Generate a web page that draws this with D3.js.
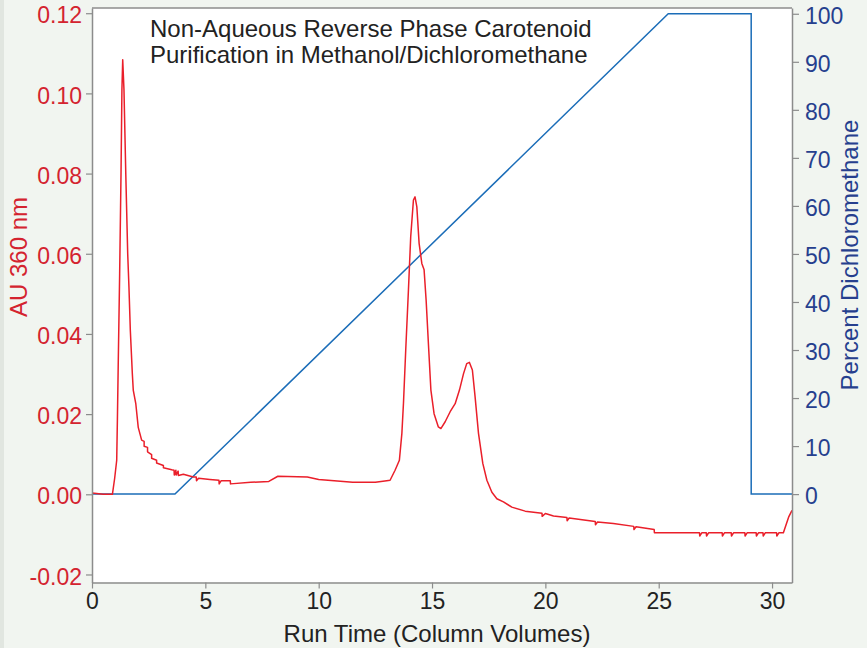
<!DOCTYPE html>
<html>
<head>
<meta charset="utf-8">
<script src="https://cdn.jsdelivr.net/npm/d3@7"></script>
<style>
  body { margin: 0; background: #f1f5f0; }
  svg { display: block; font-family: "Liberation Sans", Arial, sans-serif; }
</style>
</head>
<body>
<div id="chart"></div>
<script>
// --- data ---
const uvTime = [
  0, 0.5, 0.9, 1.0, 1.09, 1.12, 1.16, 1.22, 1.28, 1.32, 1.355, 1.41, 1.49, 1.575,
  1.63, 1.69, 1.78, 1.82, 1.93, 2.04, 2.19, 2.3, 2.3, 2.45, 2.45, 2.63, 2.63,
  2.85, 2.85, 3.15, 3.15, 3.52, 3.62, 3.63, 3.7, 3.71, 3.8, 3.81, 4.03, 4.47,
  4.6, 4.61, 4.7, 5.2, 5.6, 5.61, 5.7, 6.0, 6.1, 6.11, 7.0, 7.8, 8.2, 9.5, 10.0,
  11.5, 12.5, 13.0, 13.15, 13.37, 13.56, 13.67, 13.74, 13.84, 13.96, 14.06,
  14.18, 14.25, 14.33, 14.43, 14.55, 14.65, 14.74, 14.84, 14.95, 15.09, 15.28,
  15.39, 15.58, 15.8, 16.02, 16.21, 16.39, 16.53, 16.65, 16.78, 16.9, 17.05,
  17.24, 17.42, 17.64, 17.86, 18.15, 18.52, 19.11, 19.85, 19.86, 20.0, 20.36,
  20.95, 20.96, 21.05, 21.54, 22.2, 22.21, 22.3, 23.0, 23.9, 23.91, 24.0, 24.8,
  24.81, 25.07, 26.8, 26.81, 26.9, 27.1, 27.11, 27.2, 27.8, 27.81, 27.9, 28.2,
  28.21, 28.3, 28.8, 28.81, 28.9, 29.3, 29.31, 29.4, 29.6, 29.61, 29.7, 30.2,
  30.21, 30.3, 30.5, 30.73, 30.88
];
const uvAbs = [
  0.0003, 0.0, 0.0, 0.004, 0.0085, 0.0185, 0.0335, 0.055, 0.080, 0.101, 0.1084,
  0.101, 0.080, 0.060, 0.0517, 0.041, 0.030, 0.026, 0.0227, 0.0167, 0.0135,
  0.0132, 0.0120, 0.0117, 0.0106, 0.0099, 0.0090, 0.0085, 0.0078, 0.0072,
  0.0066, 0.0061, 0.0060, 0.0048, 0.0060, 0.0048, 0.0058, 0.0047, 0.0050,
  0.0043, 0.0043, 0.0034, 0.0040, 0.0037, 0.0035, 0.0026, 0.0034, 0.0034,
  0.0034, 0.0026, 0.0030, 0.0032, 0.0045, 0.0043, 0.0037, 0.0030, 0.0030,
  0.0034, 0.0035, 0.0060, 0.0085, 0.0152, 0.0227, 0.0360, 0.0510, 0.0643,
  0.0734, 0.0742, 0.0717, 0.0626, 0.0576, 0.0560, 0.0484, 0.0376, 0.0260,
  0.0201, 0.0168, 0.0164, 0.0181, 0.0206, 0.0226, 0.0260, 0.0301, 0.0326,
  0.0329, 0.0310, 0.0243, 0.0152, 0.0077, 0.0035, 0.0005, -0.0011, -0.0019,
  -0.0032, -0.0042, -0.0047, -0.0055, -0.0048, -0.0054, -0.0058, -0.0066,
  -0.0059, -0.0063, -0.0068, -0.0076, -0.0069, -0.0073, -0.0080, -0.0088,
  -0.0081, -0.0088, -0.0096, -0.0096, -0.0096, -0.0104, -0.0096, -0.0096,
  -0.0104, -0.0096, -0.0096, -0.0104, -0.0096, -0.0096, -0.0104, -0.0096,
  -0.0096, -0.0104, -0.0096, -0.0096, -0.0104, -0.0096, -0.0096, -0.0104,
  -0.0096, -0.0096, -0.0104, -0.0096, -0.0096, -0.0057, -0.0040
];
const gradTime = [0, 3.66, 25.42, 29.08, 29.08, 30.88];
const gradPct = [0, 0, 100, 100, 0, 0];

const xTicks = [0, 5, 10, 15, 20, 25, 30];
const auTicks = [-0.02, 0.0, 0.02, 0.04, 0.06, 0.08, 0.1, 0.12];
const pctTicks = [0, 10, 20, 30, 40, 50, 60, 70, 80, 90, 100];
const titleLines = [
  "Non-Aqueous Reverse Phase Carotenoid",
  "Purification in Methanol/Dichloromethane"
];

// --- layout ---
const W = 867, H = 648;
const plot = { left: 92, right: 792, top: 8, bottom: 582.5 };
const red = "#ea1f2a", redText = "#d4232f", blue = "#1b6db8", blueText = "#263f8e";
const axisGray = "#8c8c8c";

const svg = d3.select("#chart").append("svg").attr("width", W).attr("height", H);
svg.append("rect").attr("width", W).attr("height", H).attr("fill", "#f1f5f0");
svg.append("rect").attr("width", 4).attr("height", H).attr("fill", "#e1e6e0");
svg.append("rect")
  .attr("x", plot.left).attr("y", plot.top)
  .attr("width", plot.right - plot.left).attr("height", plot.bottom - plot.top)
  .attr("fill", "#ffffff");

const x = d3.scaleLinear().domain([0, 30.88]).range([plot.left, plot.right]);
const yAU = d3.scaleLinear().domain([-0.022, 0.1213]).range([plot.bottom, plot.top]);
const yPct = d3.scaleLinear().domain([-18.4, 101.2]).range([plot.bottom, plot.top]);

// --- traces ---
const gradLine = d3.line().x((d, i) => x(gradTime[i])).y((d, i) => yPct(gradPct[i]));
svg.append("path")
  .attr("d", gradLine(gradTime))
  .attr("fill", "none").attr("stroke", blue).attr("stroke-width", 1.5);

const uvLine = d3.line().x((d, i) => x(uvTime[i])).y((d, i) => yAU(uvAbs[i]));
svg.append("path")
  .attr("d", uvLine(uvTime))
  .attr("fill", "none").attr("stroke", red).attr("stroke-width", 1.5)
  .attr("stroke-linejoin", "round");

// --- frame ---
svg.append("line")
  .attr("x1", plot.left).attr("x2", plot.right)
  .attr("y1", plot.top).attr("y2", plot.top)
  .attr("stroke", axisGray).attr("stroke-width", 1.5);

function styleAxis(g, color) {
  g.select(".domain").attr("stroke", axisGray).attr("stroke-width", 1.5);
  g.selectAll(".tick line").attr("stroke", axisGray).attr("stroke-width", 1.2);
  g.selectAll(".tick text").attr("fill", color).style("font-size", "23px")
    .style("font-family", "'Liberation Sans', Arial, sans-serif");
}

const xAxis = svg.append("g")
  .attr("transform", `translate(0,${plot.bottom})`)
  .call(d3.axisBottom(x).tickValues(xTicks).tickSize(6).tickSizeOuter(0).tickPadding(4)
    .tickFormat(d3.format("d")));
styleAxis(xAxis, "#222");

const leftAxis = svg.append("g")
  .attr("transform", `translate(${plot.left},0)`)
  .call(d3.axisLeft(yAU).tickValues(auTicks).tickSize(6).tickSizeOuter(0).tickPadding(4)
    .tickFormat((d) => d.toFixed(2)));
styleAxis(leftAxis, redText);
leftAxis.selectAll(".tick text").attr("dy", "0.42em");

const rightAxis = svg.append("g")
  .attr("transform", `translate(${plot.right},0)`)
  .call(d3.axisRight(yPct).tickValues(pctTicks).tickSize(7).tickSizeOuter(0).tickPadding(6)
    .tickFormat(d3.format("d")));
styleAxis(rightAxis, blueText);
rightAxis.selectAll(".tick text").attr("dy", "0.42em");

// --- titles ---
svg.append("text")
  .attr("x", 437).attr("y", 642)
  .attr("text-anchor", "middle")
  .attr("fill", "#222").style("font-size", "24px")
  .text("Run Time (Column Volumes)");

svg.append("text")
  .attr("transform", "translate(27,257) rotate(-90)")
  .attr("text-anchor", "middle")
  .attr("fill", redText).style("font-size", "24px")
  .text("AU 360 nm");

svg.append("text")
  .attr("transform", "translate(858,255) rotate(-90)")
  .attr("text-anchor", "middle")
  .attr("fill", blueText).style("font-size", "24px")
  .text("Percent Dichloromethane");

svg.append("g").selectAll("text")
  .data(titleLines)
  .enter()
  .append("text")
  .attr("x", 150)
  .attr("y", (d, i) => 37 + i * 25.5)
  .attr("fill", "#222").style("font-size", "24px")
  .text((d) => d);
</script>
</body>
</html>
